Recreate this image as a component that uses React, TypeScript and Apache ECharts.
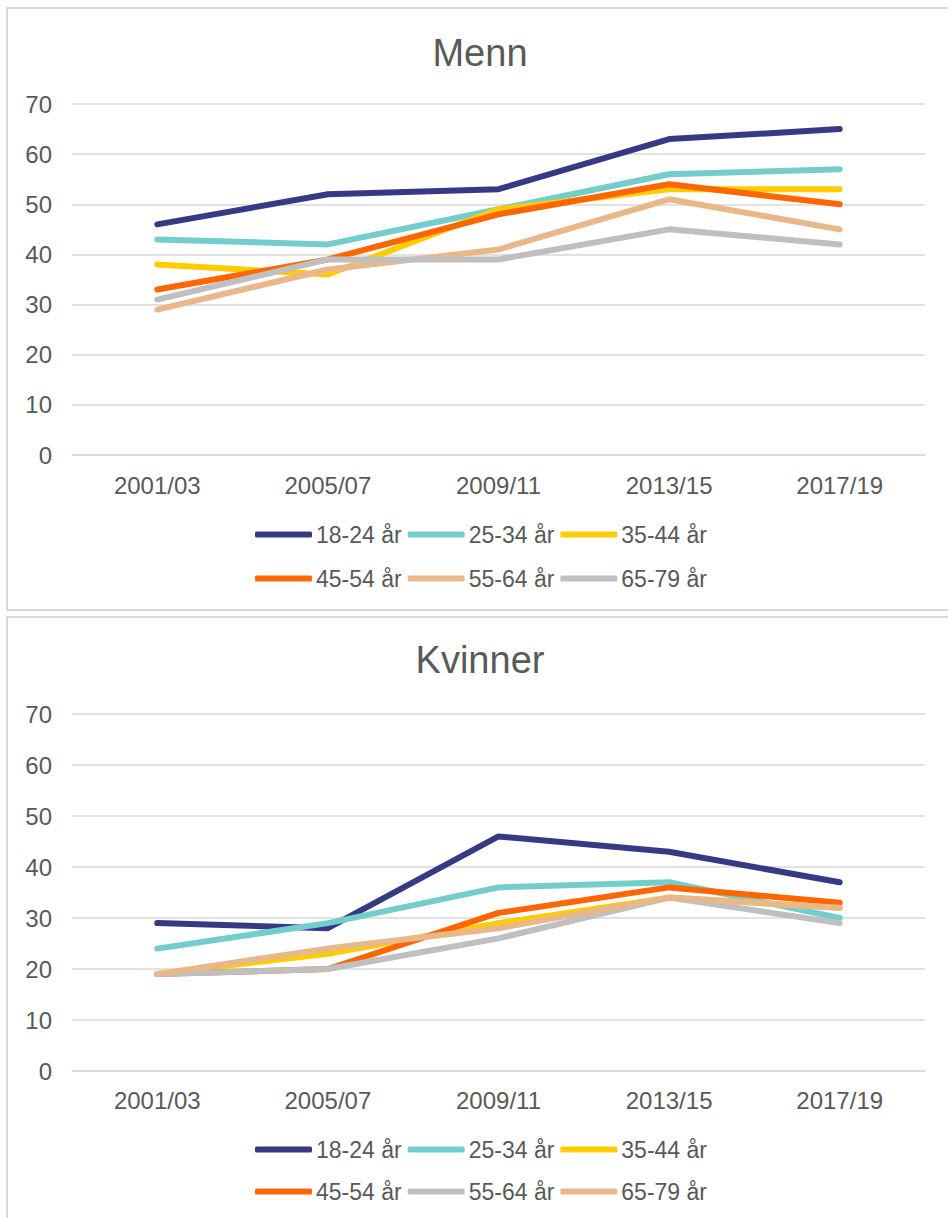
import React, { useEffect, useRef } from "react";
import * as echarts from "echarts";

const categories = ["2001/03", "2005/07", "2009/11", "2013/15", "2017/19"];
const ageGroups = ["18-24 år", "25-34 år", "35-44 år", "45-54 år", "55-64 år", "65-79 år"];

// Menn
const menn1824 = [46, 52, 53, 63, 65];
const menn2534 = [43, 42, 49, 56, 57];
const menn3544 = [38, 36, 49, 53, 53];
const menn4554 = [33, 39, 48, 54, 50];
const menn5564 = [29, 37, 41, 51, 45];
const menn6579 = [31, 39, 39, 45, 42];

// Kvinner
const kvinner1824 = [29, 28, 46, 43, 37];
const kvinner2534 = [24, 29, 36, 37, 30];
const kvinner3544 = [19, 23, 29, 34, 32];
const kvinner4554 = [19, 20, 31, 36, 33];
const kvinner5564 = [19, 20, 26, 34, 29];
const kvinner6579 = [19, 24, 28, 34, 32];

const yTicks = [0, 10, 20, 30, 40, 50, 60, 70];

const NAVY = "#363A84";
const TEAL = "#73CDCB";
const YELLOW = "#FFCC00";
const ORANGE = "#FF6600";
const TAN = "#E9B88A";
const GRAY = "#BFBFBF";

const FONT = "'Liberation Sans', Arial, sans-serif";
const TXT = "#595959";

type Cfg = {
  title: string;
  data: number[][];
  colors: string[];
  titleTop: number;
  boxY: number;
  gridTop: number;
  gridBottom: number;
  labelMargin: number;
  legendRows: number[];
};

function buildOption(c: Cfg) {
  const legendText = { fontSize: 23, color: TXT, fontFamily: FONT };
  return {
    animation: false,
    textStyle: { fontFamily: FONT },
    title: {
      text: c.title,
      left: 475,
      textAlign: "center",
      top: c.titleTop,
      textStyle: { fontSize: 38, fontWeight: "normal", color: TXT, fontFamily: FONT },
    },
    graphic: [
      {
        type: "rect",
        silent: true,
        shape: { x: 7, y: c.boxY, width: 960, height: 602 },
        style: { fill: "none", stroke: "#d9d9d9", lineWidth: 2 },
      },
    ],
    legend: c.legendRows.map((y, r) => ({
      data: ageGroups.slice(r * 3, r * 3 + 3),
      left: 255,
      top: y - 12,
      padding: 0,
      orient: "horizontal",
      icon: "roundRect",
      itemWidth: 57,
      itemHeight: 6,
      itemGap: 6,
      itemStyle: { borderWidth: 0 },
      textStyle: { ...legendText, padding: [0, 0, 0, -1] },
    })),
    grid: { left: 72, right: 23, top: c.gridTop, bottom: c.gridBottom, containLabel: false },
    xAxis: {
      type: "category",
      data: categories,
      boundaryGap: true,
      axisLine: { show: true, lineStyle: { color: "#d9d9d9", width: 1.5 } },
      axisTick: { show: false },
      axisLabel: { fontSize: 24, color: TXT, margin: c.labelMargin, fontFamily: FONT },
    },
    yAxis: {
      type: "value",
      min: yTicks[0],
      max: yTicks[yTicks.length - 1],
      interval: 10,
      axisLine: { show: false },
      axisTick: { show: false },
      axisLabel: { fontSize: 24, color: TXT, margin: 20, fontFamily: FONT },
      splitLine: { lineStyle: { color: "#d9d9d9", width: 1.5 } },
    },
    series: ageGroups.map((name, i) => ({
      name,
      type: "line",
      data: c.data[i],
      symbol: "none",
      color: c.colors[i],
      lineStyle: { width: 6, color: c.colors[i], cap: "round", join: "round" },
      itemStyle: { color: c.colors[i] },
      z: 2 + i,
    })),
  };
}

function Chart({ cfg, top, height }: { cfg: Cfg; top: number; height: number }) {
  const ref = useRef<HTMLDivElement>(null);
  useEffect(() => {
    if (!ref.current) return;
    const chart = echarts.init(ref.current, undefined, { renderer: "svg" });
    chart.setOption(buildOption(cfg) as any);
    return () => chart.dispose();
  }, []);
  return (
    <div
      ref={ref}
      style={{ position: "absolute", left: 0, top, width: 948, height }}
    />
  );
}

export default function App() {
  const menn: Cfg = {
    title: "Menn",
    data: [menn1824, menn2534, menn3544, menn4554, menn5564, menn6579],
    colors: [NAVY, TEAL, YELLOW, ORANGE, TAN, GRAY],
    titleTop: 29,
    boxY: 8,
    gridTop: 104,
    gridBottom: 613 - 455,
    labelMargin: 18,
    legendRows: [535, 579],
  };
  const kvinner: Cfg = {
    title: "Kvinner",
    data: [kvinner1824, kvinner2534, kvinner3544, kvinner4554, kvinner5564, kvinner6579],
    colors: [NAVY, TEAL, YELLOW, ORANGE, GRAY, TAN],
    titleTop: 23,
    boxY: 4,
    gridTop: 101,
    gridBottom: 605 - 458,
    labelMargin: 17,
    legendRows: [537, 579],
  };
  return (
    <div style={{ position: "absolute", left: 0, top: 0, width: 948, height: 1218, overflow: "hidden" }}>
      <Chart cfg={menn} top={0} height={613} />
      <Chart cfg={kvinner} top={613} height={605} />
    </div>
  );
}
